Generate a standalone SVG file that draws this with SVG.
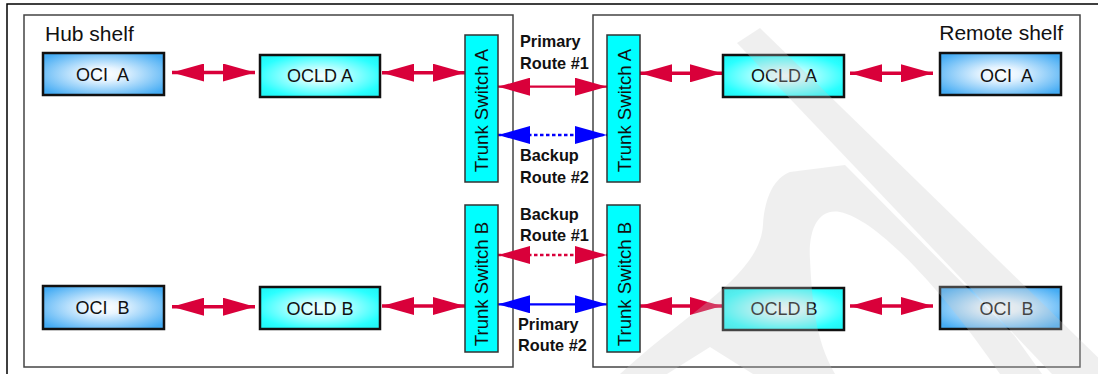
<svg xmlns="http://www.w3.org/2000/svg" width="1098" height="374" viewBox="0 0 1098 374">
<defs>
<radialGradient id="gOci" cx="50%" cy="50%" r="62%">
<stop offset="0" stop-color="#ffffff"/>
<stop offset="0.25" stop-color="#e8f5ff"/>
<stop offset="1" stop-color="#45acf4"/>
</radialGradient>
<radialGradient id="gOcld" cx="50%" cy="50%" r="62%">
<stop offset="0" stop-color="#f6ffff"/>
<stop offset="0.25" stop-color="#d0ffff"/>
<stop offset="0.85" stop-color="#2affff"/>
<stop offset="1" stop-color="#22f8f8"/>
</radialGradient>
<marker id="hr" viewBox="0 0 32 18" markerWidth="32" markerHeight="18" refX="32" refY="9" orient="auto-start-reverse" markerUnits="userSpaceOnUse">
<path d="M0,0 L32,9 L0,18 Z" fill="#d9003a"/>
</marker>
<marker id="hb" viewBox="0 0 32 18" markerWidth="32" markerHeight="18" refX="32" refY="9" orient="auto-start-reverse" markerUnits="userSpaceOnUse">
<path d="M0,0 L32,9 L0,18 Z" fill="#0000ff"/>
</marker>
</defs>
<style>
.frame{fill:none;stroke:#000;stroke-width:1.5}
.shelf{fill:#fff;stroke:#444;stroke-width:1.5}
.oci{fill:url(#gOci);stroke:#111;stroke-width:2.5}
.ocld{fill:url(#gOcld);stroke:#111;stroke-width:2.5}
.ts{fill:#00ffff;stroke:#333;stroke-width:1.5}
.t{font-family:"Liberation Sans",Arial,sans-serif;font-size:18px;fill:#111;white-space:pre}
.sh{font-size:21px}
.tr{font-size:18.6px}
.c{text-anchor:middle}
.lbl{font-family:"Liberation Sans",Arial,sans-serif;font-size:16.3px;font-weight:bold;fill:#111}
.red{stroke:#d9003a;fill:none}
.blue{stroke:#0000ff;fill:none}
.thick{stroke-width:3.5}
.thin{stroke-width:2.2}
.dot{stroke-width:2.5;stroke-dasharray:3.5 2.5}
</style>
<rect class="frame" x="7" y="4" width="1100" height="380"/>
<g id="hub-shelf">
<rect class="shelf" x="24" y="15" width="489" height="352"/>
<text class="t sh" x="45" y="41">Hub shelf</text>
</g>
<g id="remote-shelf">
<rect class="shelf" x="593" y="15" width="487" height="352"/>
<text class="t sh" x="1063" y="40" text-anchor="end">Remote shelf</text>
</g>
<g id="connectors">
<line class="red thick" x1="172" y1="72.5" x2="255" y2="72.5" marker-start="url(#hr)" marker-end="url(#hr)"/>
<line class="red thick" x1="382" y1="72.7" x2="465" y2="72.7" marker-start="url(#hr)" marker-end="url(#hr)"/>
<line class="red thin" x1="498" y1="86.7" x2="607" y2="86.7" marker-start="url(#hr)" marker-end="url(#hr)"/>
<line class="blue dot" x1="498" y1="135" x2="607" y2="135" marker-start="url(#hb)" marker-end="url(#hb)"/>
<line class="red thick" x1="640" y1="73.3" x2="722" y2="73.3" marker-start="url(#hr)" marker-end="url(#hr)"/>
<line class="red thick" x1="850" y1="73.3" x2="933" y2="73.3" marker-start="url(#hr)" marker-end="url(#hr)"/>
<line class="red dot" x1="498" y1="255" x2="607" y2="255" marker-start="url(#hr)" marker-end="url(#hr)"/>
<line class="blue thin" x1="498" y1="304.3" x2="607" y2="304.3" marker-start="url(#hb)" marker-end="url(#hb)"/>
<line class="red thick" x1="172" y1="306.7" x2="255" y2="306.7" marker-start="url(#hr)" marker-end="url(#hr)"/>
<line class="red thick" x1="382" y1="306" x2="465" y2="306" marker-start="url(#hr)" marker-end="url(#hr)"/>
<line class="red thick" x1="640" y1="306" x2="722" y2="306" marker-start="url(#hr)" marker-end="url(#hr)"/>
<line class="red thick" x1="850" y1="306" x2="933" y2="306" marker-start="url(#hr)" marker-end="url(#hr)"/>
<text class="lbl" x="520" y="47">Primary</text>
<text class="lbl" x="520" y="68.5">Route #1</text>
<text class="lbl" x="520" y="161">Backup</text>
<text class="lbl" x="520" y="183">Route #2</text>
<text class="lbl" x="520" y="219.5">Backup</text>
<text class="lbl" x="520" y="241">Route #1</text>
<text class="lbl" x="518" y="330">Primary</text>
<text class="lbl" x="518" y="351">Route #2</text>
</g>
<g id="hub-oci-a"><rect class="oci" x="43" y="53" width="121" height="42"/><text class="t c" x="102.5" y="81">OCI  A</text></g>
<g id="hub-ocld-a"><rect class="ocld" x="260" y="55" width="120" height="42"/><text class="t c" x="320" y="82">OCLD A</text></g>
<g id="hub-oci-b"><rect class="oci" x="43" y="286" width="121" height="43"/><text class="t c" x="102.5" y="314">OCI  B</text></g>
<g id="hub-ocld-b"><rect class="ocld" x="260" y="287" width="120" height="42"/><text class="t c" x="320" y="314.5">OCLD B</text></g>
<g id="hub-trunk-a"><rect class="ts" x="465" y="35" width="33" height="147"/><text class="t tr c" transform="translate(481.8,110.5) rotate(-90)" x="0" y="6.6">Trunk Switch A</text></g>
<g id="hub-trunk-b"><rect class="ts" x="465" y="205" width="33" height="147"/><text class="t tr c" transform="translate(481.8,284) rotate(-90)" x="0" y="6.6">Trunk Switch B</text></g>
<g id="remote-trunk-a"><rect class="ts" x="607" y="35" width="33" height="147"/><text class="t tr c" transform="translate(624,110.5) rotate(-90)" x="0" y="6.6">Trunk Switch A</text></g>
<g id="remote-trunk-b"><rect class="ts" x="607" y="205" width="33" height="147"/><text class="t tr c" transform="translate(624,284) rotate(-90)" x="0" y="6.6">Trunk Switch B</text></g>
<g id="remote-ocld-a"><rect class="ocld" x="723" y="55" width="121" height="42"/><text class="t c" x="784" y="82">OCLD A</text></g>
<g id="remote-oci-a"><rect class="oci" x="940" y="53" width="121" height="42"/><text class="t c" x="1006.5" y="82">OCI  A</text></g>
<g id="remote-ocld-b"><rect class="ocld" x="723" y="288" width="121" height="42"/><text class="t c" x="784" y="315">OCLD B</text></g>
<g id="remote-oci-b"><rect class="oci" x="940" y="287" width="121" height="42"/><text class="t c" x="1006.5" y="315">OCI  B</text></g>
<g id="watermark" opacity="0.28" fill="#c8c8c8">
<path d="M737,43 L760,28 L1115,374 L1052,374 Z"/>
<path d="M620,374 C690,310 760,275 763,225 C765,195 775,178 790,172 L845,165 L1014,335 L1042,374 L1000,374 C950,300 880,220 840,212 C818,208 808,230 810,260 C812,300 815,340 835,374 L753,374 L710,347 L667,374 Z"/>
</g>
</svg>
